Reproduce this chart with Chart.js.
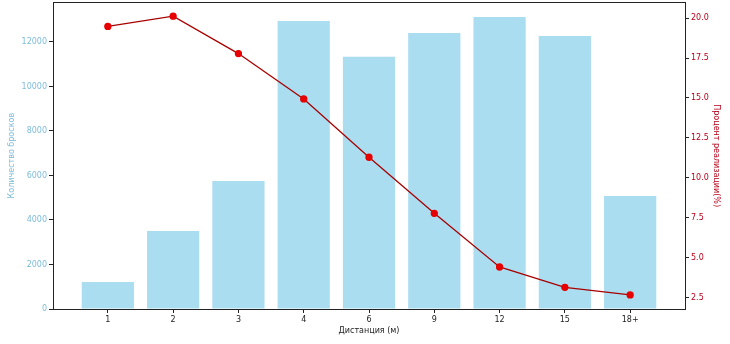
<!DOCTYPE html>
<html><head><meta charset="utf-8">
<script src="https://cdn.jsdelivr.net/npm/chart.js@4"></script>
<style>html,body{margin:0;padding:0;background:#fff;overflow:hidden}#w{width:730px;height:347px;margin-top:-3px}</style>
</head><body><div id="w"><canvas id="c"></canvas></div>
<script>
const categories = ["1","2","3","4","6","9","12","15","18+"];
const shotCounts = [1210, 3500, 5750, 12940, 11330, 12400, 13120, 12270, 5080];
const successPct = [19.48, 20.12, 17.78, 14.94, 11.29, 7.78, 4.42, 3.15, 2.67];
const leftTickValues = [0, 2000, 4000, 6000, 8000, 10000, 12000];
const rightTickValues = [2.5, 5.0, 7.5, 10.0, 12.5, 15.0, 17.5, 20.0];

const frame = {
  id: 'frame',
  afterDatasetsDraw(chart) {
    const a = chart.chartArea, ctx = chart.ctx;
    ctx.save();
    ctx.strokeStyle = '#222';
    ctx.lineWidth = 1;
    ctx.strokeRect(Math.round(a.left)+0.5, Math.round(a.top)+0.5, Math.round(a.right-a.left), Math.round(a.bottom-a.top));
    ctx.restore();
  }
};

Chart.defaults.font.family = "'DejaVu Sans', sans-serif";
Chart.defaults.font.size = 8;

new Chart(document.getElementById('c'), {
  type: 'bar',
  data: {
    datasets: [
      {
        type: 'line',
        label: 'Процент реализации(%)',
        data: successPct.map((v, i) => ({x: i, y: v})),
        yAxisID: 'y1',
        borderColor: '#a80000',
        borderWidth: 1.3,
        pointBackgroundColor: '#e60000',
        pointBorderColor: '#e60000',
        pointRadius: 3,
        tension: 0,
        order: 0
      },
      {
        type: 'bar',
        label: 'Количество бросков',
        data: shotCounts.map((v, i) => ({x: i, y: v})),
        yAxisID: 'y',
        backgroundColor: 'rgba(135,206,235,0.7)',
        borderWidth: 0,
        categoryPercentage: 1.0,
        barPercentage: 0.8,
        order: 1
      }
    ]
  },
  options: {
    responsive: true,
    maintainAspectRatio: false,
    animation: false,
    layout: {padding: {top: 0, left: 0, right: 0, bottom: 0}},
    plugins: {legend: {display: false}, tooltip: {enabled: false}},
    scales: {
      x: {
        type: 'linear',
        offset: false,
        min: -0.84, max: 8.84,
        grid: {drawOnChartArea: false, offset: false, tickLength: 4, tickColor: '#222'},
        border: {color: '#222'},
        afterBuildTicks: s => { s.ticks = categories.map((c, i) => ({value: i})); },
        ticks: {
          color: '#222', padding: 2, maxRotation: 0, autoSkip: false,
          callback: v => categories[v]
        },
        title: {display: true, text: 'Дистанция (м)', color: '#222', font: {size: 8}, padding: {top: 0, bottom: 8}},
        afterFit: s => { s.height = 35; s.paddingLeft = 0; s.paddingRight = 0; }
      },
      y: {
        position: 'left',
        min: 0, max: 13780,
        grid: {drawOnChartArea: false, tickLength: 4, tickColor: '#222'},
        border: {color: '#222'},
        afterBuildTicks: s => { s.ticks = leftTickValues.map(v => ({value: v})); },
        ticks: {color: '#7dbcd9', padding: 2, autoSkip: false, callback: v => String(v)},
        title: {display: true, text: 'Количество бросков', color: '#7dbcd9', font: {size: 8}, padding: {top: 7, bottom: 0}},
        afterFit: s => { s.width = 53; s.paddingTop = 0; s.paddingBottom = 0; }
      },
      y1: {
        position: 'right',
        min: 1.79, max: 20.99,
        grid: {drawOnChartArea: false, tickLength: 4, tickColor: '#222'},
        border: {color: '#222'},
        afterBuildTicks: s => { s.ticks = rightTickValues.map(v => ({value: v})); },
        ticks: {color: '#b8001a', padding: 2, autoSkip: false, callback: v => v.toFixed(1)},
        title: {display: true, text: 'Процент реализации(%)', color: '#b8001a', font: {size: 8}, padding: {top: 9, bottom: 0}},
        afterFit: s => { s.width = 45; s.paddingTop = 0; s.paddingBottom = 0; }
      }
    }
  },
  plugins: [frame]
});
</script>
</body></html>
